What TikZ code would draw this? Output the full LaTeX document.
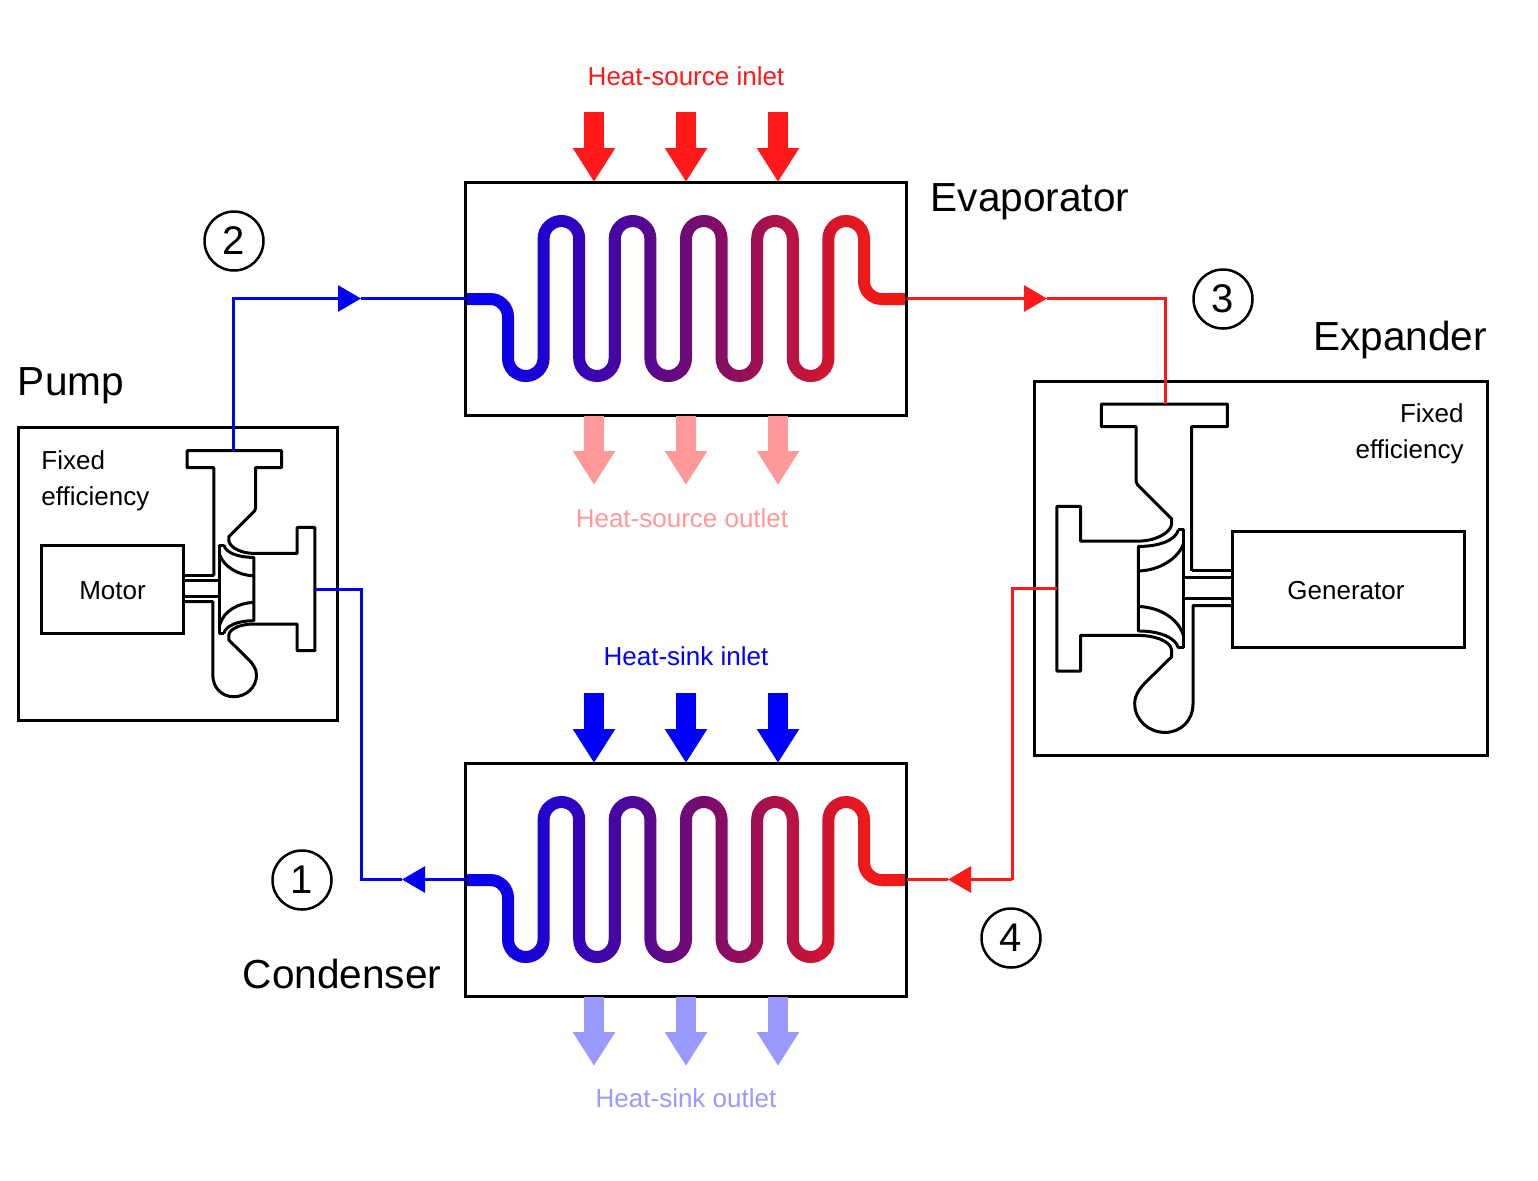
\documentclass[tikz,border=0pt]{standalone}
\usepackage{fontspec}
\setmainfont{Liberation Sans}
\usetikzlibrary{arrows.meta,calc,positioning}
\definecolor{hotred}{RGB}{255,25,25}
\definecolor{hotpale}{RGB}{255,153,153}
\definecolor{coldblue}{RGB}{0,0,255}
\definecolor{coldpale}{RGB}{153,153,255}
\definecolor{coilred}{RGB}{240,25,25}
\definecolor{coilmid}{RGB}{108,10,120}
\definecolor{coilblue}{RGB}{10,0,235}
\tikzstyle{hexbox}=[draw, line width=1.5pt, outer sep=0pt, inner sep=0pt, minimum width=220.5pt, minimum height=116.5pt]
\tikzstyle{unitbox}=[draw, line width=1.5pt, outer sep=0pt, inner sep=0pt]
\tikzstyle{bigtext}=[inner sep=0pt, font=\fontsize{20.3}{24}\selectfont]
\tikzstyle{smalltext}=[inner sep=0pt, font=\fontsize{13}{18}\selectfont]
\tikzstyle{statenum}=[draw, circle, line width=1.25pt, inner sep=0pt, minimum size=29.5pt, font=\fontsize{20}{24}\selectfont]
\tikzstyle{bigarrow}=[line width=10pt, -{Triangle[length=17pt,width=20pt]}]
\tikzstyle{flow}=[line width=1.5pt]
\tikzstyle{flowtip}=[flow, -{Triangle[length=11.5pt,width=13pt]}]
\tikzstyle{machine}=[line width=1.5pt, line join=round]
\newcommand{\coilat}[1]{%
  \foreach \i in {0,...,39} {
    \pgfmathsetmacro{\xa}{465+11.05*\i}
    \pgfmathsetmacro{\xb}{\xa+12}
    \pgfmathsetmacro{\pct}{max(0,min(100,(\xa+5.5-500)/3.7))}
    \pgfmathsetmacro{\pctlow}{min(100,2*\pct)}
    \pgfmathsetmacro{\pcthigh}{max(0,2*\pct-100)}
    \begin{scope}[shift={(0,#1)}]
      \clip (\xa,-100) rectangle (\xb,100);
      \draw [line width=6pt, rounded corners=8.9pt, color=coilred!\pcthigh!coilmid!\pctlow!coilblue]
        (465,0) -- (508,0) -- (508,77) -- (543.6,77) -- (543.6,-78) -- (579.2,-78)
        -- (579.2,77) -- (614.8,77) -- (614.8,-78) -- (650.4,-78) -- (650.4,77)
        -- (686,77) -- (686,-78) -- (721.6,-78) -- (721.6,77) -- (757.2,77)
        -- (757.2,-78) -- (792.8,-78) -- (792.8,77) -- (828.4,77) -- (828.4,-78)
        -- (864,-78) -- (864,0) -- (907,0);
    \end{scope}
  }%
}
\newcommand{\turbo}[2]{%
  \begin{scope}[#2, machine]
    \coordinate (#1in) at (0,0);
    \coordinate (#1out) at (81,138.3);
    \draw (-20,125) -- (-20,17) -- (-46.7,17) -- (-46.7,0) -- (47.7,0) -- (47.7,17) -- (21.7,17)
      -- (21.7,57.7) .. controls (21.7,60) and (20,61) .. (18.3,62.7) -- (-5,86)
      -- (-5,90) .. controls (-4,97) and (8,102.7) .. (20,102.7)
      -- (63.3,102.7) -- (63.3,76.7) -- (81,76.7) -- (81,200) -- (63.3,200) -- (63.3,173.3) -- (20,173.3)
      .. controls (9,173.3) and (-4,177) .. (-5,184.3) -- (-5,189.3) -- (14,208)
      .. controls (19,213) and (22.7,218) .. (22.7,224.3)
      .. controls (22.7,237) and (12,246) .. (0,246) .. controls (-12,246) and (-21,237) .. (-21,224.3)
      -- (-21,151) -- (-50,151);
    \draw (-20,125) -- (-50,125);
    % shaft
    \draw (-50,130) -- (-14,130);
    \draw (-50,146) -- (-14,146);
    % impeller
    \draw (-10,94.3) -- (-14,94.3) -- (-14,182.7) -- (-10,182.7);
    \draw (-10,94.3) .. controls (-8,102) and (4,106.7) .. (20,106.7) -- (20,170)
      .. controls (4,170) and (-8,175) .. (-10,182.7);
    \draw (-14,104.3) .. controls (-10,116) and (5,125) .. (20,125);
    \draw (20,151.7) .. controls (5,152) and (-10,160) .. (-14,174);
  \end{scope}%
}
\begin{document}
\begin{tikzpicture}[x=0.5pt, y=-0.5pt, node distance=290.5pt]
    \useasboundingbox (0,0) rectangle (1538,1180);
    %
    \coilat{299}
    \coilat{880}
    \node (evap) [hexbox] at (686,298.5) {};
    \node (cond) [hexbox, below of=evap] {};
    %
    \node (pump) [unitbox, minimum width=159.5pt, minimum height=146.5pt] at (178,573.5) {};
    \node (expd) [unitbox, minimum width=226.5pt, minimum height=187pt] at (1261,568) {};
    \node (motor) [unitbox, minimum width=71pt, minimum height=44pt] at (112.5,589) {};
    \node (gen) [unitbox, minimum width=116pt, minimum height=58pt] at (1348.5,589) {};
    \node (motorlabel) [smalltext] at (112.5,591) {Motor};
    \node (genlabel) [smalltext] at (1346,591) {Generator};
    %
    \turbo{pump}{shift={(233.8,450.7)}}
    \turbo{expd}{shift={(1165,404)}, xscale=-1.335, yscale=1.335}
    %
    \foreach \n/\dx in {1/-46, 2/0, 3/46} {
      \draw [bigarrow, hotred] ([xshift=\dx pt, yshift=35pt]evap.north) -- ([xshift=\dx pt]evap.north);
      \draw [bigarrow, hotpale] ([xshift=\dx pt, yshift=-0.5pt]evap.south) -- ([xshift=\dx pt, yshift=-35pt]evap.south);
      \draw [bigarrow, coldblue] ([xshift=\dx pt, yshift=35pt]cond.north) -- ([xshift=\dx pt]cond.north);
      \draw [bigarrow, coldpale] ([xshift=\dx pt, yshift=-0.5pt]cond.south) -- ([xshift=\dx pt, yshift=-35pt]cond.south);
    }
    %
    \coordinate (tip2) at (361,298.5);
    \coordinate (tip3) at (1047,298.5);
    \coordinate (tip1) at (402,879.5);
    \coordinate (tip4) at (948,879.5);
    \coordinate (turn1) at (361,879.5);
    \coordinate (turn4) at (1012,879.5);
    \draw [flowtip, coldblue] (pumpin) |- (tip2);
    \draw [flow, coldblue] (tip2) -- (evap.west);
    \draw [flowtip, hotred] (evap.east) -- (tip3);
    \draw [flow, hotred] (tip3) -| (expdin);
    \draw [flowtip, coldblue] (cond.west) -- (tip1);
    \draw [flow, coldblue] (tip1) -- (turn1) |- (pumpout);
    \draw [flow, hotred] (expdout) -| (turn4);
    \draw [flowtip, hotred] (turn4) -- (tip4);
    \draw [flow, hotred] (tip4) -- (cond.east);
    %
    \node (num1) [statenum] at (302,880) {1};
    \node (num2) [statenum] at (234,241) {2};
    \node (num3) [statenum] at (1223,299) {3};
    \node (num4) [statenum] at (1011,938) {4};
    %
    \node (evaplabel) [bigtext] at (1030,202) {Evaporator};
    \node (condlabel) [bigtext] at (342,974) {Condenser};
    \node (pumplabel) [bigtext] at (71,386) {Pump};
    \node (expdlabel) [bigtext] at (1400,340) {Expander};
    %
    \node (srcin) [smalltext, hotred] at (686,76.5) {Heat-source inlet};
    \node (srcout) [smalltext, hotpale] at (682,518) {Heat-source outlet};
    \node (sinkin) [smalltext, coldblue] at (686,656) {Heat-sink inlet};
    \node (sinkout) [smalltext, coldpale] at (686,1098) {Heat-sink outlet};
    \node (pumpfix) [smalltext, align=left, anchor=west] at (41,481) {Fixed\\efficiency};
    \node (expdfix) [smalltext, align=right, anchor=east] at (1464,434) {Fixed\\efficiency};
\end{tikzpicture}
\end{document}
